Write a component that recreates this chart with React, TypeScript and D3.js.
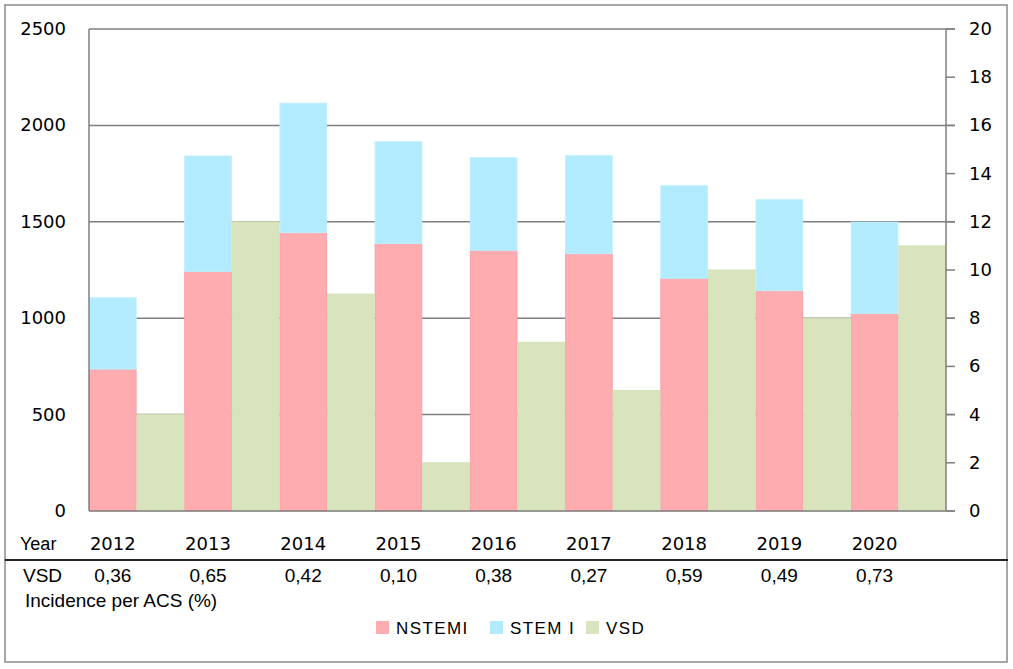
import React from "react";
import * as d3 from "d3";

const years = ["2012", "2013", "2014", "2015", "2016", "2017", "2018", "2019", "2020"];
const nstemi = [736, 1243, 1444, 1388, 1352, 1335, 1207, 1143, 1025];
const stemi = [370, 598, 671, 527, 480, 508, 480, 472, 473];
const vsd = [4, 12, 9, 2, 7, 5, 10, 8, 11];
const incidence = ["0,36", "0,65", "0,42", "0,10", "0,38", "0,27", "0,59", "0,49", "0,73"];
const leftTicks = [0, 500, 1000, 1500, 2000, 2500];
const rightTicks = [0, 2, 4, 6, 8, 10, 12, 14, 16, 18, 20];
const legendItems = [
  { key: "NSTEMI", label: "NSTEMI" },
  { key: "STEMI", label: "STEM I" },
  { key: "VSD", label: "VSD" },
];

const COLORS: Record<string, string> = {
  NSTEMI: "#FFACB1",
  STEMI: "#B3EBFE",
  VSD: "#D7E4BD",
};
const STROKES: Record<string, string> = {
  NSTEMI: "#F9A0A6",
  STEMI: "#BDEFFF",
  VSD: "#D3E1B7",
};

const W = 1013;
const H = 669;
const L = 89;
const R = 946;
const T = 29;
const B = 511;

export default function App() {
  const x = d3.scaleBand<string>().domain(years).range([L, R]).padding(0);
  const yL = d3.scaleLinear().domain([0, 2500]).range([B, T]);
  const yR = d3.scaleLinear().domain([0, 20]).range([B, T]);
  const bw = x.bandwidth() / 2;

  const rows = years.map((y, i) => ({ year: y, NSTEMI: nstemi[i], STEMI: stemi[i] }));
  const stacked = d3.stack<any>().keys(["NSTEMI", "STEMI"])(rows);

  const tickFont = "'DejaVu Sans', Verdana, sans-serif";
  const arialFont = "'Liberation Sans', Arial, sans-serif";

  return (
    <svg
      width={W}
      height={H}
      style={{ position: "absolute", left: 0, top: 0, background: "#fff" }}
    >
      <rect x={0} y={0} width={W} height={H} fill="#fff" />
      {/* outer frame */}
      <rect x={5} y={5} width={1002} height={657} fill="none" stroke="#8a8a8a" strokeWidth={1.5} />

      {/* gridlines */}
      {leftTicks.filter((t) => t > 0).map((t) => (
        <line key={"g" + t} x1={L} x2={R + 9} y1={yL(t)} y2={yL(t)} stroke="#7f7f7f" strokeWidth={1.5} />
      ))}

      {/* stacked bars */}
      {stacked.map((series) => (
        <g key={series.key}>
          {series.map((d: any, i: number) => (
            <rect
              key={i}
              x={(x(years[i]) as number) + 0.5}
              y={yL(d[1])}
              width={bw - 1}
              height={yL(d[0]) - yL(d[1])}
              fill={COLORS[series.key]}
              stroke={STROKES[series.key]}
              strokeWidth={1}
            />
          ))}
        </g>
      ))}

      {/* VSD bars on right axis */}
      {vsd.map((v, i) => (
        <rect
          key={"v" + i}
          x={(x(years[i]) as number) + bw + 0.5}
          y={yR(v)}
          width={bw - 1}
          height={yR(0) - yR(v)}
          fill={COLORS.VSD}
          stroke={STROKES.VSD}
          strokeWidth={1}
        />
      ))}

      {/* axes */}
      <line x1={L} x2={L} y1={T} y2={B} stroke="#7f7f7f" strokeWidth={1.5} />
      <line x1={R} x2={R} y1={T} y2={B} stroke="#7f7f7f" strokeWidth={1.5} />
      <line x1={L} x2={R + 9} y1={B} y2={B} stroke="#7f7f7f" strokeWidth={1.5} />
      {rightTicks.map((t) => (
        <line key={"rt" + t} x1={R} x2={R + 9} y1={yR(t)} y2={yR(t)} stroke="#7f7f7f" strokeWidth={1.5} />
      ))}

      {/* left tick labels */}
      {leftTicks.map((t) => (
        <text
          key={"lt" + t}
          x={66}
          y={yL(t) + 1}
          textAnchor="end"
          dominantBaseline="middle"
          fontFamily={tickFont}
          fontSize={18}
          fill="#000"
        >
          {t}
        </text>
      ))}

      {/* right tick labels */}
      {rightTicks.map((t) => (
        <text
          key={"rl" + t}
          x={969}
          y={yR(t) + 1}
          textAnchor="start"
          dominantBaseline="middle"
          fontFamily={tickFont}
          fontSize={18}
          fill="#000"
        >
          {t}
        </text>
      ))}

      {/* year row */}
      <text x={20} y={550} fontFamily={arialFont} fontSize={18} fill="#000">
        Year
      </text>
      {years.map((y) => (
        <text
          key={"y" + y}
          x={(x(y) as number) + bw / 2}
          y={550}
          textAnchor="middle"
          fontFamily={tickFont}
          fontSize={18}
          fill="#000"
        >
          {y}
        </text>
      ))}

      {/* table separator */}
      <line x1={5} x2={1008} y1={560} y2={560} stroke="#222" strokeWidth={2} />

      {/* VSD incidence row */}
      <text x={23} y={582} fontFamily={arialFont} fontSize={19} fill="#000">
        VSD
      </text>
      {incidence.map((v, i) => (
        <text
          key={"inc" + i}
          x={(x(years[i]) as number) + bw / 2}
          y={582}
          textAnchor="middle"
          fontFamily={arialFont}
          fontSize={19}
          fill="#000"
        >
          {v}
        </text>
      ))}
      <text x={25} y={607} fontFamily={arialFont} fontSize={19} fill="#000">
        Incidence per ACS (%)
      </text>

      {/* legend */}
      {legendItems.map((item, i) => {
        const xs = [376, 490, 586];
        return (
          <g key={item.key}>
            <rect x={xs[i]} y={621} width={13} height={13} fill={COLORS[item.key]} />
            <text
              x={xs[i] + 20}
              y={633.5}
              fontFamily={arialFont}
              fontSize={17}
              letterSpacing={1.4}
              fill="#000"
            >
              {item.label}
            </text>
          </g>
        );
      })}
    </svg>
  );
}
